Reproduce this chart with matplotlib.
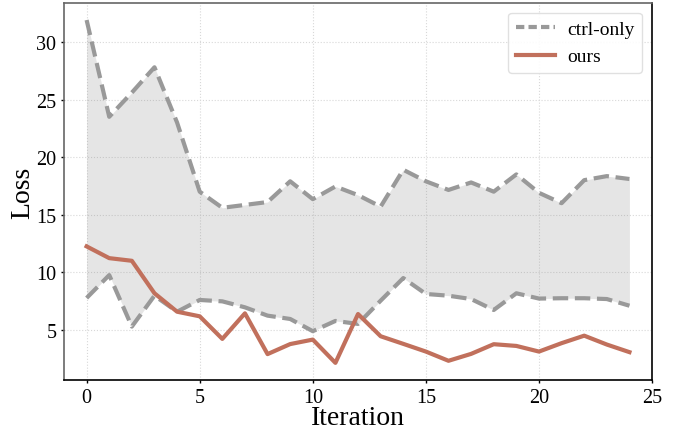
import matplotlib
matplotlib.use("Agg")
import matplotlib.pyplot as plt
from matplotlib.lines import Line2D

iters = list(range(25))
ctrl_upper = [31.9, 23.5, 25.6, 27.8, 23.0, 17.0, 15.6, 15.85, 16.1, 17.9, 16.35, 17.45, 16.7,
              15.7, 18.9, 17.9, 17.15, 17.8, 17.0, 18.5, 16.9, 16.0, 18.0, 18.35, 18.1]
ctrl_lower = [7.77, 9.76, 5.29, 7.97, 6.58, 7.6, 7.48, 6.96, 6.24, 5.95, 4.89, 5.78, 5.52,
              7.54, 9.5, 8.12, 7.97, 7.68, 6.73, 8.18, 7.72, 7.75, 7.75, 7.68, 7.1]
ours = [12.25, 11.23, 11.0, 8.18, 6.58, 6.18, 4.22, 6.44, 2.9, 3.77, 4.16, 2.14, 6.38,
        4.45, 3.79, 3.12, 2.32, 2.92, 3.76, 3.61, 3.12, 3.85, 4.5, 3.73, 3.07]

plt.rcParams['font.family'] = ['Liberation Serif', 'DejaVu Serif']

fig = plt.figure(figsize=(6.83, 4.31), dpi=100)
ax = fig.add_axes([0.0937, 0.116, 0.861, 0.875])

gray = '#999999'
orange = '#c1705c'

# shaded band for ctrl-only
ax.fill_between(iters, ctrl_lower, ctrl_upper, color='gray', alpha=0.2, linewidth=0)
ax.plot(iters, ctrl_upper, '--', color=gray, lw=3)
ax.plot(iters, ctrl_lower, '--', color=gray, lw=3)
ax.plot(iters, ours, '-', color=orange, lw=3)

ax.set_xlim(-1, 25)
ax.set_xticks([0, 5, 10, 15, 20, 25])
ax.set_yticks([5, 10, 15, 20, 25, 30])
ax.grid(True, linestyle=':', color='#d8d8d8', linewidth=0.8)
ax.set_axisbelow(True)
ax.tick_params(labelsize=14.5, length=2.5, width=1, pad=3)

ax.spines['top'].set_color('#666666')
ax.spines['left'].set_color('#666666')
ax.spines['right'].set_color('black')
ax.spines['bottom'].set_color('black')
for s in ax.spines.values():
    s.set_linewidth(1.2)

ax.set_xlabel("Iteration", fontsize=20, labelpad=-1)
ax.set_ylabel("Loss", fontsize=20, labelpad=1)

handles = [Line2D([], [], color=gray, lw=3, dashes=(2, 1)),
           Line2D([], [], color=orange, lw=3)]
ax.legend(handles, ["ctrl-only", "ours"], loc='upper right', fontsize=14,
          handlelength=2.0, handletextpad=0.65, framealpha=0.9, edgecolor='#dddddd')

fig.savefig("out.png", dpi=100)
